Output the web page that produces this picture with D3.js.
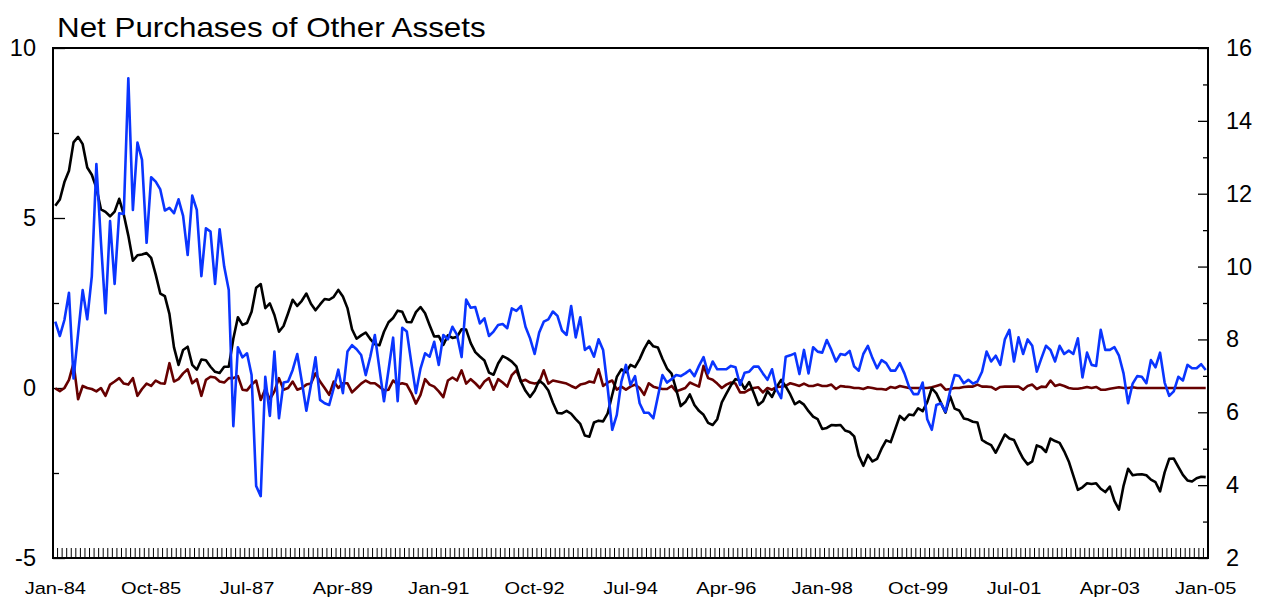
<!DOCTYPE html>
<html><head><meta charset="utf-8">
<script src="https://cdn.jsdelivr.net/npm/d3@7"></script>
<style>body{margin:0;background:#fff}svg{display:block}</style>
</head><body>
<svg id="chart" width="1262" height="601"></svg>
<script>
const chartTitle = "Net Purchases of Other Assets";
const startMonth = new Date(1984, 0, 1);
const endMonth = new Date(2005, 1, 1);
const months = d3.timeMonth.range(startMonth, endMonth); // Jan-84 .. Jan-05 (253 months)

const xTickLabels = ["Jan-84","Oct-85","Jul-87","Apr-89","Jan-91","Oct-92","Jul-94","Apr-96","Jan-98","Oct-99","Jul-01","Apr-03","Jan-05"];
const leftMajor = [-5, 0, 5, 10];
const leftMinor = [-2.5, 2.5, 7.5];
const rightMajor = [2, 4, 6, 8, 10, 12, 14, 16];
const rightMinor = [3, 5, 7, 9, 11, 13, 15];

// blue series (left axis)
const blueSeries = [
1.95,1.53,2.0,2.8,0.28,1.6,2.88,2.02,3.28,6.59,
4.3,2.2,4.91,3.06,5.14,5.12,9.11,5.24,7.22,6.71,
4.27,6.2,6.07,5.84,5.22,5.3,5.14,5.55,5.06,3.91,
5.66,5.24,3.29,4.70,4.6,3.06,4.67,3.57,2.88,-1.12,
1.2,0.9,1.02,0.38,-2.88,-3.18,0.33,-0.82,1.07,-0.89,
0.16,0.19,0.53,1.0,0.19,-0.67,0.09,0.9,-0.35,-0.45,
-0.5,0.0,0.54,-0.15,1.07,1.26,1.14,0.97,0.38,0.92,
1.56,0.57,-0.39,0.53,1.48,-0.39,1.77,1.66,0.73,-0.15,
0.57,1.02,0.92,1.36,0.68,1.56,1.43,1.8,1.56,0.91,
2.6,2.36,2.38,1.9,2.05,1.53,1.66,1.85,1.88,1.76,
2.34,2.27,2.41,1.8,1.46,1.0,1.63,1.95,2.02,2.25,
2.12,1.69,1.56,2.41,1.49,2.08,1.12,1.22,0.92,1.43,
1.12,0.0,-1.23,-0.79,0.19,0.68,0.09,0.35,-0.45,-0.73,
-0.73,-0.89,-0.25,0.38,0.16,0.26,0.38,0.35,0.43,0.53,
0.35,0.65,0.91,0.43,0.78,0.55,0.55,0.55,0.65,0.61,
0.09,0.45,0.48,0.63,0.63,0.43,0.24,0.55,-0.05,-0.3,
0.92,0.96,1.02,0.41,1.12,0.43,1.2,1.07,1.04,1.41,
1.12,0.78,1.0,0.97,1.09,0.63,0.51,1.0,1.24,0.88,
0.58,0.82,0.73,0.51,0.51,0.73,0.43,0.04,-0.18,-0.18,
0.16,-0.92,-1.23,-0.5,-0.45,-0.7,-0.1,0.38,0.35,0.14,
0.24,0.13,0.19,0.48,1.07,0.78,0.95,0.68,1.43,1.71,
0.78,1.49,1.0,1.43,1.24,0.48,0.87,1.24,1.12,0.78,
1.24,1.0,1.1,1.0,1.46,0.31,1.04,0.68,0.65,1.71,
1.12,1.12,1.2,0.95,0.43,-0.45,0.13,0.35,0.33,0.14,
0.82,0.61,1.04,0.16,-0.23,-0.1,0.33,0.22,0.68,0.58,
0.58,0.7,0.53];

// dark red series (left axis)
const maroonSeries = [
-0.01,-0.09,0,0.24,0.73,-0.33,0.06,0,-0.03,-0.1,
0,-0.23,0.1,0.19,0.29,0.13,0.1,0.29,-0.23,-0.03,
0.13,0.06,0.22,0.14,0.13,0.73,0.19,0.26,0.43,0.55,
0.14,0.26,-0.23,0.24,0.33,0.31,0.19,0.16,0.29,0.29,
0.35,-0.05,-0.07,0.1,0.22,-0.35,-0.03,-0.33,-0.1,0.29,
-0.05,0,0.19,-0.05,0,0.1,0.13,0.43,0.19,0,
-0.2,0.19,0,0.14,0.14,-0.13,0,0.13,0.22,0.14,
0.14,0.04,-0.07,-0.05,0.22,0.1,0.14,0.1,-0.15,-0.46,
-0.2,0.26,0.1,0.04,-0.1,-0.27,0.22,0.31,0.22,0.52,
0.13,0.26,0.14,0,0.19,0.29,-0.05,0.26,0.16,0.04,
0.38,0.52,0.19,0.24,0.16,0.13,0.16,0.52,0.13,0.22,
0.19,0.16,0.13,0.06,0,0.1,0.13,0.19,0.16,0.55,
0.06,0.16,0.22,-0.05,0.04,-0.05,0.04,0.1,0,-0.2,
0.14,0.04,0,-0.03,-0.03,0.06,-0.1,-0.05,0,0.16,
0.1,0.04,0.65,0.29,0.24,0.13,0,0.1,0.16,0.13,
-0.13,-0.13,-0.05,0,0.02,-0.13,0,-0.05,0.03,0.04,
0.06,0.14,0.1,0.06,0.13,0.06,0.06,0.1,0.06,0.06,
0.1,-0.03,0.06,0.04,0.03,0,0,-0.03,0.02,0,
-0.03,-0.03,-0.05,0.03,0,0.06,0.03,0,0,0,
0,0,0.02,0.06,0.1,-0.05,-0.03,0,0,0.03,
0.04,0.04,0.1,0.04,0.04,0.03,-0.05,0.03,0.04,0.04,
0.04,0.04,-0.05,0.06,0.1,-0.03,0.04,0.03,0.22,0.06,
0.1,0.06,0,-0.02,-0.02,0,0.03,0,0.03,-0.05,
-0.05,-0.02,0,0.02,0,0,0.02,0,0,0,
0,0,0,0,0,0,0,0,0,0,
0,0,0];

// black series (right axis)
const blackSeries = [
11.67,11.84,12.32,12.63,13.41,13.56,13.36,12.72,12.52,12.16,11.57,11.50,
11.38,11.51,11.86,11.43,10.85,10.16,10.31,10.33,10.37,10.24,9.78,9.26,
9.19,8.70,7.78,7.30,7.71,7.80,7.30,7.17,7.45,7.43,7.25,7.11,
7.08,7.25,7.25,8.02,8.61,8.40,8.45,8.76,9.42,9.52,8.86,8.99,
8.67,8.21,8.37,8.72,9.09,8.92,9.06,9.26,8.98,8.80,8.96,9.11,
9.09,9.17,9.36,9.18,8.86,8.28,8.02,8.11,8.19,8.01,7.87,7.84,
8.21,8.47,8.59,8.79,8.76,8.48,8.47,8.75,8.89,8.72,8.39,8.08,
8.09,7.85,8.11,8.04,8.07,8.28,8.27,7.90,7.65,7.53,7.42,7.09,
7.03,7.34,7.54,7.48,7.39,7.26,6.84,6.59,6.42,6.59,6.87,6.77,
6.60,6.26,5.98,5.97,6.04,5.96,5.81,5.68,5.36,5.33,5.72,5.77,
5.75,5.97,6.48,6.97,7.18,7.10,7.30,7.24,7.46,7.74,7.96,7.81,
7.78,7.47,7.20,7.06,6.63,6.17,6.28,6.49,6.20,6.04,5.93,5.71,
5.65,5.81,6.27,6.51,6.74,6.91,6.87,6.64,6.83,6.53,6.20,6.30,
6.58,6.42,6.69,6.89,6.71,6.49,6.22,6.30,6.21,6.03,5.88,5.81,
5.54,5.57,5.65,5.64,5.65,5.50,5.46,5.34,4.81,4.53,4.83,4.65,
4.72,5.00,5.23,5.18,5.54,5.90,5.79,5.94,5.92,6.11,6.03,6.28,
6.66,6.52,6.26,5.99,6.44,6.10,6.05,5.83,5.80,5.74,5.72,5.24,
5.16,5.10,4.89,5.14,5.39,5.28,5.24,4.97,4.73,4.57,4.65,5.09,
5.04,4.91,5.28,5.21,5.16,4.93,4.65,4.26,3.87,3.94,4.05,4.03,
4.05,3.90,3.81,3.96,3.57,3.33,3.98,4.45,4.27,4.29,4.30,4.27,
4.15,4.08,3.83,4.35,4.72,4.73,4.50,4.28,4.13,4.10,4.19,4.23,
4.22];

const W = 1262, H = 601;
const plot = {left: 53, right: 1208, top: 48, bottom: 558};
const FONT = "'Liberation Sans', Arial, Helvetica, sans-serif";
const svg = d3.select("#chart").attr("font-family", FONT);

const fmt = d3.timeFormat("%b-%y");
const cats = months.map(fmt);
const xBand = d3.scaleBand().domain(cats).range([plot.left, plot.right]).paddingInner(0).paddingOuter(0);
const xMid = c => xBand(c) + xBand.bandwidth() / 2;
const yL = d3.scaleLinear().domain([-5, 10]).range([plot.bottom, plot.top]);
const yR = d3.scaleLinear().domain([2, 16]).range([plot.bottom, plot.top]);
const numFmt = d => String(d); // plain hyphen-minus, as in the original

// monthly tick marks (between categories)
svg.append("g").selectAll("line").data(cats.slice(1)).join("line")
  .attr("x1", c => xBand(c)).attr("x2", c => xBand(c))
  .attr("y1", plot.bottom).attr("y2", plot.bottom - 10)
  .attr("stroke", "#000").attr("stroke-width", 1);

// left axis
const gl = svg.append("g").attr("transform", `translate(${plot.left},0)`);
gl.call(d3.axisLeft(yL).tickValues(leftMajor).tickSize(-12).tickPadding(17).tickFormat(numFmt));
gl.append("g").call(d3.axisLeft(yL).tickValues(leftMinor).tickSize(-6).tickFormat(""));
// right axis
const gr = svg.append("g").attr("transform", `translate(${plot.right},0)`);
gr.call(d3.axisRight(yR).tickValues(rightMajor).tickSize(-10).tickPadding(18).tickFormat(numFmt));
gr.append("g").call(d3.axisRight(yR).tickValues(rightMinor).tickSize(-5).tickFormat(""));
svg.selectAll(".domain").remove();
svg.selectAll(".tick line").attr("stroke", "#000").attr("stroke-width", 1.3);
svg.selectAll(".tick text").attr("font-size", 23.5).attr("font-family", FONT).attr("fill", "#000");

// lines
const mk = (yScale) => d3.line().x((d, i) => xMid(cats[i])).y(d => yScale(d));
svg.append("path").datum(maroonSeries).attr("d", mk(yL))
  .attr("fill", "none").attr("stroke", "#660000").attr("stroke-width", 2.6).attr("stroke-linejoin", "round");
svg.append("path").datum(blackSeries).attr("d", mk(yR))
  .attr("fill", "none").attr("stroke", "#000").attr("stroke-width", 2.6).attr("stroke-linejoin", "round");
svg.append("path").datum(blueSeries).attr("d", mk(yL))
  .attr("fill", "none").attr("stroke", "#0a35ff").attr("stroke-width", 2.6).attr("stroke-linejoin", "round");

// frame
svg.append("rect").attr("x", plot.left).attr("y", plot.top)
  .attr("width", plot.right - plot.left).attr("height", plot.bottom - plot.top)
  .attr("fill", "none").attr("stroke", "#000").attr("stroke-width", 2);

// x labels
const labelIdx = cats.map((c, i) => i).filter(i => xTickLabels.includes(cats[i]));
svg.append("g").selectAll("text").data(labelIdx).join("text")
  .attr("transform", i => `translate(${xMid(cats[i])},594) scale(1.18,1)`)
  .attr("text-anchor", "middle").attr("font-size", 17).attr("fill", "#000")
  .text(i => cats[i]);

// title
svg.append("text").attr("transform", "translate(57,37) scale(1.12,1)")
  .attr("font-size", 28).attr("fill", "#000").text(chartTitle);
</script>
</body></html>
